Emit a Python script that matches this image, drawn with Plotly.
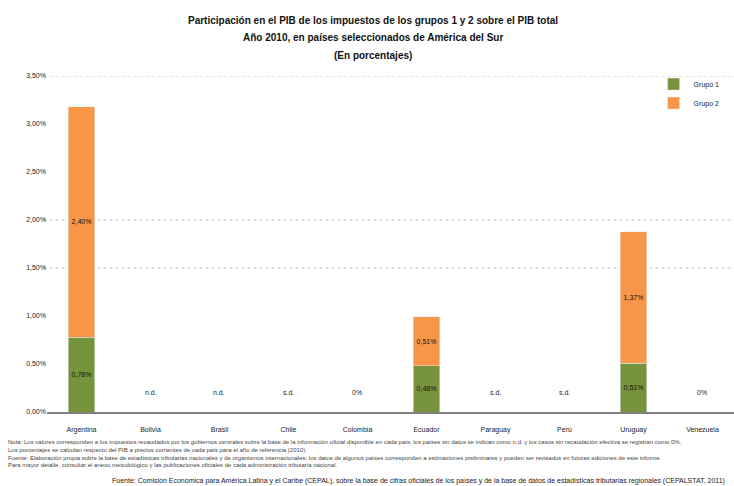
import plotly.graph_objects as go

paises = ["Argentina", "Bolivia", "Brasil", "Chile", "Colombia", "Ecuador",
          "Paraguay", "Perú", "Uruguay", "Venezuela"]
grupo1 = [0.78, 0, 0, 0, 0, 0.48, 0, 0, 0.51, 0]
grupo2 = [2.40, 0, 0, 0, 0, 0.51, 0, 0, 1.37, 0]
etiquetas_cero = ["", "n.d.", "n.d.", "s.d.", "0%", "", "s.d.", "s.d.", "", "0%"]
tick_vals = [0, 0.5, 1.0, 1.5, 2.0, 2.5, 3.0, 3.5]
tick_text = ["0,00%", "0,50%", "1,00%", "1,50%", "2,00%", "2,50%", "3,00%", "3,50%"]
grid_vals = [1.5, 2.0, 3.5]
titulo = ["Participación en el PIB de los impuestos de los grupos 1 y 2 sobre el PIB total",
          "Año 2010, en países seleccionados de América del Sur",
          "(En porcentajes)"]
notas = [
    "Nota: Los valores corresponden a los impuestos recaudados por los gobiernos centrales sobre la base de la información oficial disponible en cada país; los países sin datos se indican como n.d. y los casos sin recaudación efectiva se registran como 0%.",
    "Los porcentajes se calculan respecto del PIB a precios corrientes de cada país para el año de referencia (2010).",
    "Fuente: Elaboración propia sobre la base de estadísticas tributarias nacionales y de organismos internacionales; los datos de algunos países corresponden a estimaciones preliminares y pueden ser revisados en futuras ediciones de este informe.",
    "Para mayor detalle, consultar el anexo metodológico y las publicaciones oficiales de cada administración tributaria nacional.",
]
fuente = ("Fuente: Comisión Económica para América Latina y el Caribe (CEPAL), sobre la base de cifras oficiales de los países "
          "y de la base de datos de estadísticas tributarias regionales (CEPALSTAT, 2011)")

VERDE = "#77933C"
NARANJA = "#F79646"
FONT = "Liberation Sans"


def fmt(v):
    return ("%.2f%%" % v).replace(".", ",") if v > 0 else ""


fig = go.Figure()
fig.add_trace(go.Bar(
    x=paises, y=grupo1, name="Grupo 1", marker_color=VERDE,
    text=[fmt(v) for v in grupo1], textposition="inside", insidetextanchor="middle",
    textfont=dict(size=7, color="#111", family=FONT), cliponaxis=False))
fig.add_trace(go.Bar(
    x=paises, y=grupo2, name="Grupo 2", marker_color=NARANJA,
    text=[fmt(v) for v in grupo2], textposition="inside", insidetextanchor="middle",
    textfont=dict(size=7, color="#111", family=FONT), cliponaxis=False))

for p, t in zip(paises, etiquetas_cero):
    if t:
        fig.add_annotation(x=p, y=0.2, text=t, showarrow=False,
                           font=dict(size=7, color="#222", family=FONT))

for g in grid_vals:
    fig.add_shape(type="line", xref="paper", x0=-0.005, x1=1, yref="y", y0=g, y1=g,
                  line=dict(color="#D9D9D9", width=1.5, dash="dot"), layer="below")

for linea, dy in zip(titulo, [56, 39, 21]):
    fig.add_annotation(xref="paper", yref="paper", x=0.474, y=1.0, yshift=dy,
                       xanchor="center", yanchor="middle", text="<b>%s</b>" % linea,
                       showarrow=False, font=dict(size=10, color="#111", family=FONT))

fig.add_annotation(xref="paper", yref="paper", x=-0.06, y=0, yshift=-25, xanchor="left",
                   yanchor="top", text="<br>".join(notas), showarrow=False, align="left",
                   font=dict(size=6, color="#444", family=FONT))
fig.add_annotation(xref="paper", yref="paper", x=0.99, y=0, yshift=-63, xanchor="right",
                   yanchor="top", text=fuente, showarrow=False,
                   font=dict(size=7, color="#222", family=FONT))

fig.update_layout(
    width=734, height=486,
    margin=dict(l=47, r=0, t=76, b=74, autoexpand=False),
    barmode="stack", bargap=0.61,
    paper_bgcolor="white", plot_bgcolor="white",
    showlegend=True,
    legend=dict(x=0.883, y=1.019, xanchor="left", yanchor="top", traceorder="normal",
                font=dict(size=7, color="#222", family=FONT),
                bgcolor="rgba(0,0,0,0)", itemwidth=30),
    xaxis=dict(showline=True, linecolor="#808080", linewidth=2, ticks="",
               range=[-0.5, 9.457], ticklabelstandoff=10,
               tickfont=dict(size=7, color="#222", family=FONT)),
    yaxis=dict(range=[0, 3.5], tickvals=tick_vals, ticktext=tick_text, showgrid=False,
               zeroline=False, showline=False, ticks="",
               tickfont=dict(size=7, color="#222", family=FONT)),
)

fig.write_html("out.html", config={"displayModeBar": False},
               post_script="document.body.style.margin='0px';")
